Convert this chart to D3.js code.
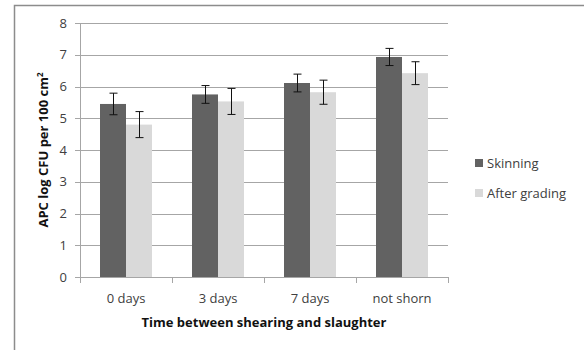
<!DOCTYPE html>
<html><head><meta charset="utf-8">
<script src="https://cdn.jsdelivr.net/npm/d3@7"></script>
<style>body{margin:0;background:#fff;} svg{display:block;font-family:"Open Sans",sans-serif;}</style>
</head><body>
<svg id="c" width="584" height="350"></svg>
<script>
const categories = ["0 days", "3 days", "7 days", "not shorn"];
const seriesNames = ["Skinning", "After grading"];
const skinning = [5.45, 5.75, 6.11, 6.93];
const skinningErr = [0.34, 0.28, 0.28, 0.27];
const afterGrading = [4.80, 5.53, 5.82, 6.42];
const afterGradingErr = [0.41, 0.41, 0.38, 0.36];
const yTicks = [0, 1, 2, 3, 4, 5, 6, 7, 8];
const colors = ["#626262", "#d9d9d9"];

(function () {
const svg = d3.select("#c");
svg.append("rect").attr("x", 14.5).attr("y", 5.5).attr("width", 580).attr("height", 360)
  .attr("fill", "#fff").attr("stroke", "#8c8c8c").attr("stroke-width", 1.5);

const pLeft = 80, pRight = 448, pTop = 23, pBottom = 277;
const x = d3.scaleBand().domain(categories).range([pLeft, pRight]);
const y = d3.scaleLinear().domain([0, 8]).range([pBottom, pTop]);

const g = svg.append("g");
g.selectAll("line.grid").data(yTicks).enter().append("line")
  .attr("x1", pLeft - 5).attr("x2", pRight).attr("y1", d => Math.round(y(d)) + 0.5).attr("y2", d => Math.round(y(d)) + 0.5)
  .attr("stroke", "#a6a6a6").attr("stroke-width", 1);
g.append("line").attr("x1", pLeft + 0.5).attr("x2", pLeft + 0.5).attr("y1", pTop).attr("y2", pBottom + 0.5).attr("stroke", "#a6a6a6");
const xTickPos = categories.map(c => x(c)).concat([pRight]);
g.selectAll("line.xt").data(xTickPos).enter().append("line")
  .attr("x1", d => Math.round(d) + 0.5).attr("x2", d => Math.round(d) + 0.5)
  .attr("y1", pBottom).attr("y2", pBottom + 6).attr("stroke", "#a6a6a6");

g.selectAll("text.yl").data(yTicks).enter().append("text")
  .attr("x", pLeft - 13).attr("y", d => y(d)).attr("dy", "0.35em").attr("text-anchor", "end")
  .attr("font-size", 13).attr("fill", "#404040").text(d => d);
g.selectAll("text.xl").data(categories).enter().append("text")
  .attr("x", d => x(d) + x.bandwidth() / 2).attr("y", 303).attr("text-anchor", "middle")
  .attr("font-size", 13).attr("fill", "#404040").text(d => d);

const barW = 26;
const series = [skinning, afterGrading];
const errs = [skinningErr, afterGradingErr];
series.forEach((vals, si) => {
  const off = si === 0 ? -barW : 0;
  g.selectAll("rect.s" + si).data(vals).enter().append("rect")
    .attr("x", (d, i) => x(categories[i]) + x.bandwidth() / 2 + off)
    .attr("width", barW)
    .attr("y", d => y(d)).attr("height", d => y(0) - y(d))
    .attr("fill", colors[si]);
  vals.forEach((v, i) => {
    const cx = Math.round(x(categories[i]) + x.bandwidth() / 2 + off + barW / 2) + 0.5;
    const e = errs[si][i];
    const eg = g.append("g").attr("stroke", "#111").attr("stroke-width", 1);
    eg.append("line").attr("x1", cx).attr("x2", cx).attr("y1", y(v + e)).attr("y2", y(v - e));
    eg.append("line").attr("x1", cx - 4).attr("x2", cx + 4).attr("y1", y(v + e)).attr("y2", y(v + e));
    eg.append("line").attr("x1", cx - 4).attr("x2", cx + 4).attr("y1", y(v - e)).attr("y2", y(v - e));
  });
});

svg.append("text").attr("x", 264).attr("y", 327).attr("text-anchor", "middle")
  .attr("font-size", 13).attr("font-weight", "bold").attr("fill", "#111").text("Time between shearing and slaughter");
const yt = svg.append("text").attr("transform", "translate(48,150) rotate(-90)").attr("text-anchor", "middle")
  .attr("font-size", 13).attr("font-weight", "bold").attr("fill", "#111");
yt.append("tspan").text("APC log CFU per 100 cm");
yt.append("tspan").attr("font-size", 8).attr("dy", -5).text("2");

const lg = svg.append("g");
seriesNames.forEach((n, i) => {
  const ly = 163 + i * 30;
  lg.append("rect").attr("x", 475).attr("y", ly - 4).attr("width", 8).attr("height", 8).attr("fill", colors[i]);
  lg.append("text").attr("x", 487).attr("y", ly).attr("dy", "0.35em").attr("font-size", 13).attr("fill", "#404040").text(n);
});
})();
</script>
</body></html>
